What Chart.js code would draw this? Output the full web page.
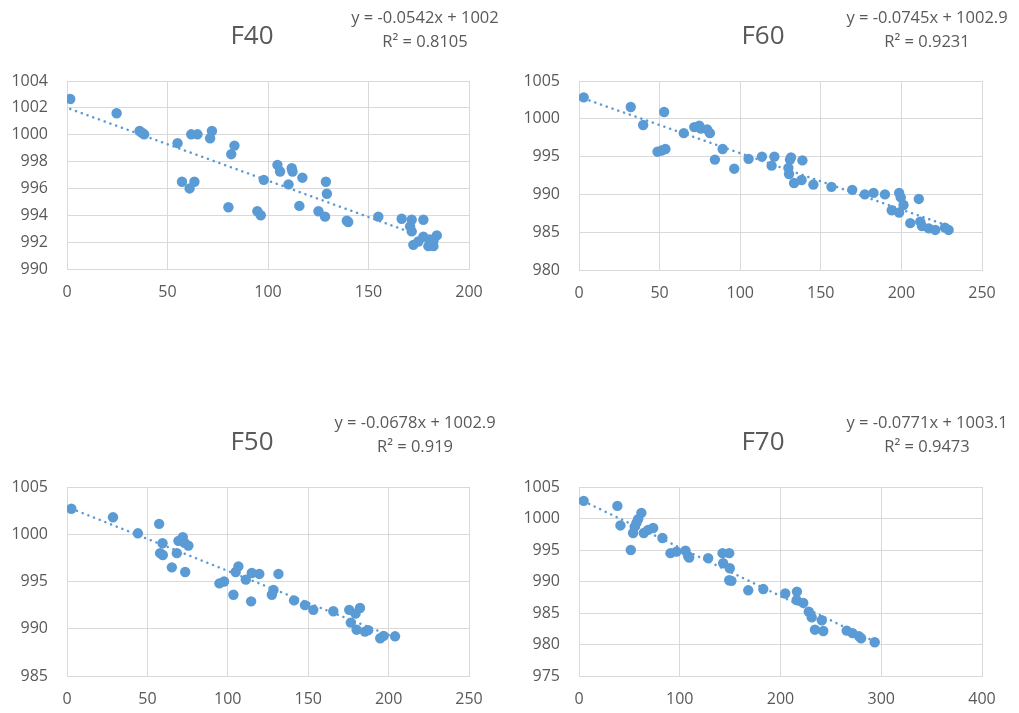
<!DOCTYPE html>
<html>
<head>
<meta charset="utf-8">
<script src="https://cdn.jsdelivr.net/npm/chart.js@4.4.1/dist/chart.umd.min.js"></script>
<style>
  html, body { margin: 0; padding: 0; background: #fff; }
  body { width: 1019px; height: 713px; position: relative; overflow: hidden; }
  canvas { position: absolute; }
</style>
</head>
<body>
<canvas id="f40" width="509" height="340" style="left:0;top:0"></canvas>
<canvas id="f60" width="509" height="340" style="left:510px;top:0"></canvas>
<canvas id="f50" width="509" height="313" style="left:0;top:400px"></canvas>
<canvas id="f70" width="509" height="313" style="left:510px;top:400px"></canvas>
<script>
// measurements per run
const f40X = [1.6, 24.7, 36.1, 37.3, 38.4, 55, 57.2, 61, 63.4, 61.8, 64.9, 71.2, 72.1, 80.3, 81.7, 83.3,
  94.7, 96.4, 97.9, 104.7, 106, 111.8, 112.2, 110.2, 117.1, 115.6, 125.1, 128.8, 129.3, 128.4, 139.2,
  139.9, 154.9, 166.5, 171.5, 177.3, 170.7, 171.5, 172.3, 174.8, 177.3, 180.6, 179.8, 182.3, 184, 182.3];
const f40Y = [1002.66, 1001.6, 1000.28, 1000.15, 1000.03, 999.37, 996.5, 996.0, 996.5, 1000.03, 1000.03,
  999.74, 1000.28, 994.6, 998.55, 999.19, 994.3, 994.0, 996.64, 997.75, 997.26, 997.5, 997.26, 996.3,
  996.8, 994.7, 994.3, 996.5, 995.6, 993.9, 993.6, 993.5, 993.9, 993.74, 993.67, 993.67, 993.17, 992.8,
  991.8, 992.05, 992.4, 992.2, 991.7, 991.7, 992.5, 992.1];

const f60X = [2.9, 32.1, 39.8, 52.8, 48.7, 51.2, 53.6, 65, 71.5, 74.6, 75.6, 79.5, 81.2, 89.1, 84.3, 96.3,
  105.2, 113.5, 121.2, 119.5, 130.9, 131.5, 138.6, 129.9, 130.3, 133.4, 138.1, 145.4, 156.6, 169.5, 177.3,
  182.7, 189.8, 198.6, 199.6, 201.3, 194, 198.6, 210.8, 205.5, 211.7, 212.8, 217, 221, 227, 229.3];
const f60Y = [1002.84, 1001.56, 999.18, 1000.9, 995.65, 995.8, 996.0, 998.1, 998.9, 999.1, 998.7, 998.6,
  998.1, 996.0, 994.6, 993.4, 994.7, 995.0, 995.0, 993.8, 994.6, 994.9, 994.5, 993.5, 992.7, 991.5, 991.9,
  991.3, 991.0, 990.6, 990.0, 990.2, 990.0, 990.2, 989.6, 988.6, 987.9, 987.6, 989.4, 986.2, 986.4,
  985.8, 985.5, 985.3, 985.6, 985.3];

const f50X = [2.7, 28.6, 44.1, 57.3, 59.4, 57.9, 59.6, 68.3, 65.2, 69.3, 72, 73.1, 75.5, 73.5, 94.8, 97.7,
  103.5, 104.9, 106.6, 111.2, 114.9, 114.5, 119.6, 131.5, 127.4, 128.4, 141.2, 148, 153.2, 165.6, 175.5,
  182.2, 179.4, 176.5, 180.1, 185.3, 187.3, 194.8, 196.9, 204];
const f50Y = [1002.7, 1001.8, 1000.1, 1001.1, 999.05, 998.0, 997.8, 998.0, 996.5, 999.3, 999.7, 999.1,
  998.8, 996.0, 994.8, 995.0, 993.6, 996.0, 996.6, 995.2, 995.9, 992.9, 995.8, 995.8, 993.6, 994.1, 993.0,
  992.5, 992.0, 991.85, 992.0, 992.2, 991.6, 990.65, 989.9, 989.7, 989.85, 989.0, 989.25, 989.2];

const f70X = [4.6, 38.1, 41.1, 51.4, 53.7, 55.3, 57, 58.7, 61.9, 64.3, 68.6, 73.6, 82.8, 90.8, 96.8, 105.7,
  108.4, 109.4, 128.2, 142.5, 149.1, 143.1, 149.7, 149.1, 151.3, 168, 182.9, 204.7, 216.3, 216, 222.6,
  228.1, 231, 234.2, 241, 242.5, 265.7, 271.5, 278, 280, 293.5];
const f70Y = [1002.8, 1002.0, 998.9, 995.0, 997.7, 998.7, 999.3, 999.9, 1000.9, 997.7, 998.2, 998.5, 996.9,
  994.5, 994.75, 994.9, 994.0, 993.8, 993.7, 994.5, 994.5, 992.9, 992.1, 990.2, 990.1, 988.6, 988.8,
  988.1, 988.4, 987.05, 986.6, 985.2, 984.3, 982.35, 983.85, 982.15, 982.2, 981.8, 981.3, 981.0, 980.35];

const panelTitles = ['F40', 'F60', 'F50', 'F70'];
const fitSlopes = [-0.0542, -0.0745, -0.0678, -0.0771];
const fitIntercepts = [1002, 1002.9, 1002.9, 1003.1];
const fitR2 = ['0.8105', '0.9231', '0.919', '0.9473'];
const xTickMax = [200, 250, 250, 400];
const xTickStep = [50, 50, 50, 100];
const yTickMin = [990, 980, 985, 975];
const yTickMax = [1004, 1005, 1005, 1005];
const yTickStep = [2, 5, 5, 5];

const seriesX = [f40X, f60X, f50X, f70X];
const seriesY = [f40Y, f60Y, f50Y, f70Y];
const canvasIds = ['f40', 'f60', 'f50', 'f70'];

// plot box [left, right, top, bottom], title centre, equation centre (canvas px)
const boxes = [
  { plot: [67, 469, 81, 269], title: [252, 37], eq: [425, 18] },
  { plot: [69, 472, 81, 270], title: [253, 37], eq: [417, 18] },
  { plot: [67, 469, 87, 276], title: [252, 43], eq: [415, 23] },
  { plot: [69, 472, 87, 276], title: [253, 43], eq: [417, 23] }
];

const BLUE = '#5b9bd5';
const GREY_TXT = '#595959';
const GRID = '#d9d9d9';
const FONT = '"Open Sans", "Liberation Sans", sans-serif';

const panelText = {
  id: 'panelText',
  afterDraw(chart, args, o) {
    const ctx = chart.ctx;
    ctx.save();
    ctx.fillStyle = GREY_TXT;
    ctx.textAlign = 'center';
    ctx.textBaseline = 'middle';
    ctx.font = '26px ' + FONT;
    ctx.fillText(o.title, o.titleX, o.titleY);
    ctx.font = '16.5px ' + FONT;
    ctx.fillText(o.eq, o.eqX, o.eqY);
    ctx.fillText(o.r2, o.eqX, o.eqY + 24);
    ctx.restore();
  }
};

canvasIds.forEach((id, i) => {
  const cv = document.getElementById(id);
  const b = boxes[i];
  const [pl, pr, pt, pb] = b.plot;
  const xs = seriesX[i], ys = seriesY[i];
  const pts = xs.map((x, k) => ({ x: x, y: ys[k] }));

  const x0 = Math.min(...xs), x1 = Math.max(...xs);
  const fit = [x0, x1].map(x => ({ x: x, y: fitSlopes[i] * x + fitIntercepts[i] }));

  const eqText = 'y = ' + fitSlopes[i] + 'x + ' + fitIntercepts[i];

  new Chart(cv.getContext('2d'), {
    type: 'scatter',
    data: {
      datasets: [
        {
          data: pts,
          backgroundColor: BLUE,
          borderColor: BLUE,
          borderWidth: 0,
          pointRadius: 5.2,
          pointHoverRadius: 5.2
        },
        {
          type: 'line',
          data: fit,
          borderColor: BLUE,
          borderWidth: 2.5,
          borderDash: [0.1, 6],
          borderCapStyle: 'round',
          pointRadius: 0,
          fill: false
        }
      ]
    },
    options: {
      responsive: false,
      animation: false,
      events: [],
      layout: { padding: { left: 0, right: cv.width - pr, top: pt, bottom: cv.height - pb - 40 } },
      plugins: {
        legend: { display: false },
        tooltip: { enabled: false },
        panelText: {
          title: panelTitles[i], titleX: b.title[0], titleY: b.title[1],
          eq: eqText, r2: 'R² = ' + fitR2[i], eqX: b.eq[0], eqY: b.eq[1]
        }
      },
      scales: {
        x: {
          min: 0, max: xTickMax[i],
          afterFit: s => { s.height = 40; },
          ticks: { stepSize: xTickStep[i], padding: 14, color: GREY_TXT, font: { family: FONT, size: 16 },
                   maxRotation: 0, format: { useGrouping: false } },
          grid: { color: GRID, lineWidth: 1, drawTicks: false },
          border: { color: GRID, width: 1 }
        },
        y: {
          min: yTickMin[i], max: yTickMax[i],
          afterFit: s => { s.width = pl; },
          ticks: { stepSize: yTickStep[i], padding: 19, color: GREY_TXT, font: { family: FONT, size: 16 },
                   format: { useGrouping: false } },
          grid: { color: GRID, lineWidth: 1, drawTicks: false },
          border: { color: GRID, width: 1 }
        }
      }
    },
    plugins: [panelText]
  });
});
</script>
</body>
</html>
